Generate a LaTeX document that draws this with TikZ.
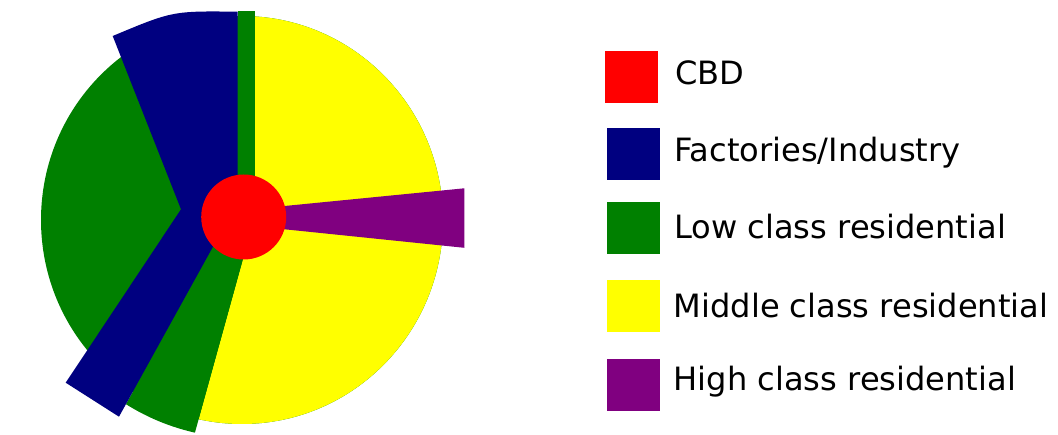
\documentclass[tikz,border=0pt]{standalone}
\usepackage{fontspec}
\setmainfont{DejaVu Sans}
\definecolor{cbdred}{HTML}{FF0000}
\definecolor{industry}{HTML}{000080}
\definecolor{lowres}{HTML}{008000}
\definecolor{midres}{HTML}{FFFF00}
\definecolor{highres}{HTML}{800080}
\begin{document}
\begin{tikzpicture}[x=1pt,y=-1pt,
  legbox/.style={draw=none,minimum width=52.5pt,minimum height=52pt,inner sep=0pt},
  legtext/.style={anchor=base west,inner sep=0pt,font=\fontsize{32.1}{36}\selectfont}]
\useasboundingbox (0,0) rectangle (1058,435);
% low class residential (left disc)
\fill[lowres] (242,220) ellipse [x radius=201, y radius=204];
% middle class residential
\begin{scope}
  \clip (242,220) ellipse [x radius=201, y radius=204];
  \fill[midres] (254.6,217) -- (255.3,0) -- (460,0) -- (460,440) -- (192.9,440) -- cycle;
\end{scope}
% lower low class strip
\begin{scope}
  \clip (243.5,217) circle [radius=221];
  \fill[lowres] (254.6,217) -- (192.9,440) -- (106.1,440) -- (229.4,217) -- cycle;
\end{scope}
% thin upper low class strip
\fill[lowres] (237.7,10.7) rectangle (255.3,217);
% factories / industry
\fill[industry] (237.7,11.7) -- (237.7,217) -- (229.4,217) -- (119,416.7) -- (65.7,382.7)
  -- (181,209.3) -- (112.7,36) .. controls (172.7,10.9) .. (237.7,11.7) -- cycle;
% high class residential
\fill[highres] (243,210.1) -- (464.3,188.3) -- (464.3,247.8) -- (243,225) -- cycle;
% CBD
\fill[cbdred] (243.7,217) circle [radius=42.5];
% legend
\node[legbox,fill=cbdred]   (kcbd)  at (631.3,76.7)  {};
\node[legbox,fill=industry] (kind)  at (633.3,153.7) {};
\node[legbox,fill=lowres]   (klow)  at (633.3,228.2) {};
\node[legbox,fill=midres]   (kmid)  at (633.3,306.2) {};
\node[legbox,fill=highres]  (khigh) at (633.3,385)   {};
\node[legtext] (tcbd)  at (675,85)    {CBD};
\node[legtext] (tind)  at (674,161.7) {Factories/Industry};
\node[legtext] (tlow)  at (674,239)   {Low class residential};
\node[legtext] (tmid)  at (673.5,317.7) {Middle class residential};
\node[legtext] (thigh) at (673.5,391) {High class residential};
\end{tikzpicture}
\end{document}
